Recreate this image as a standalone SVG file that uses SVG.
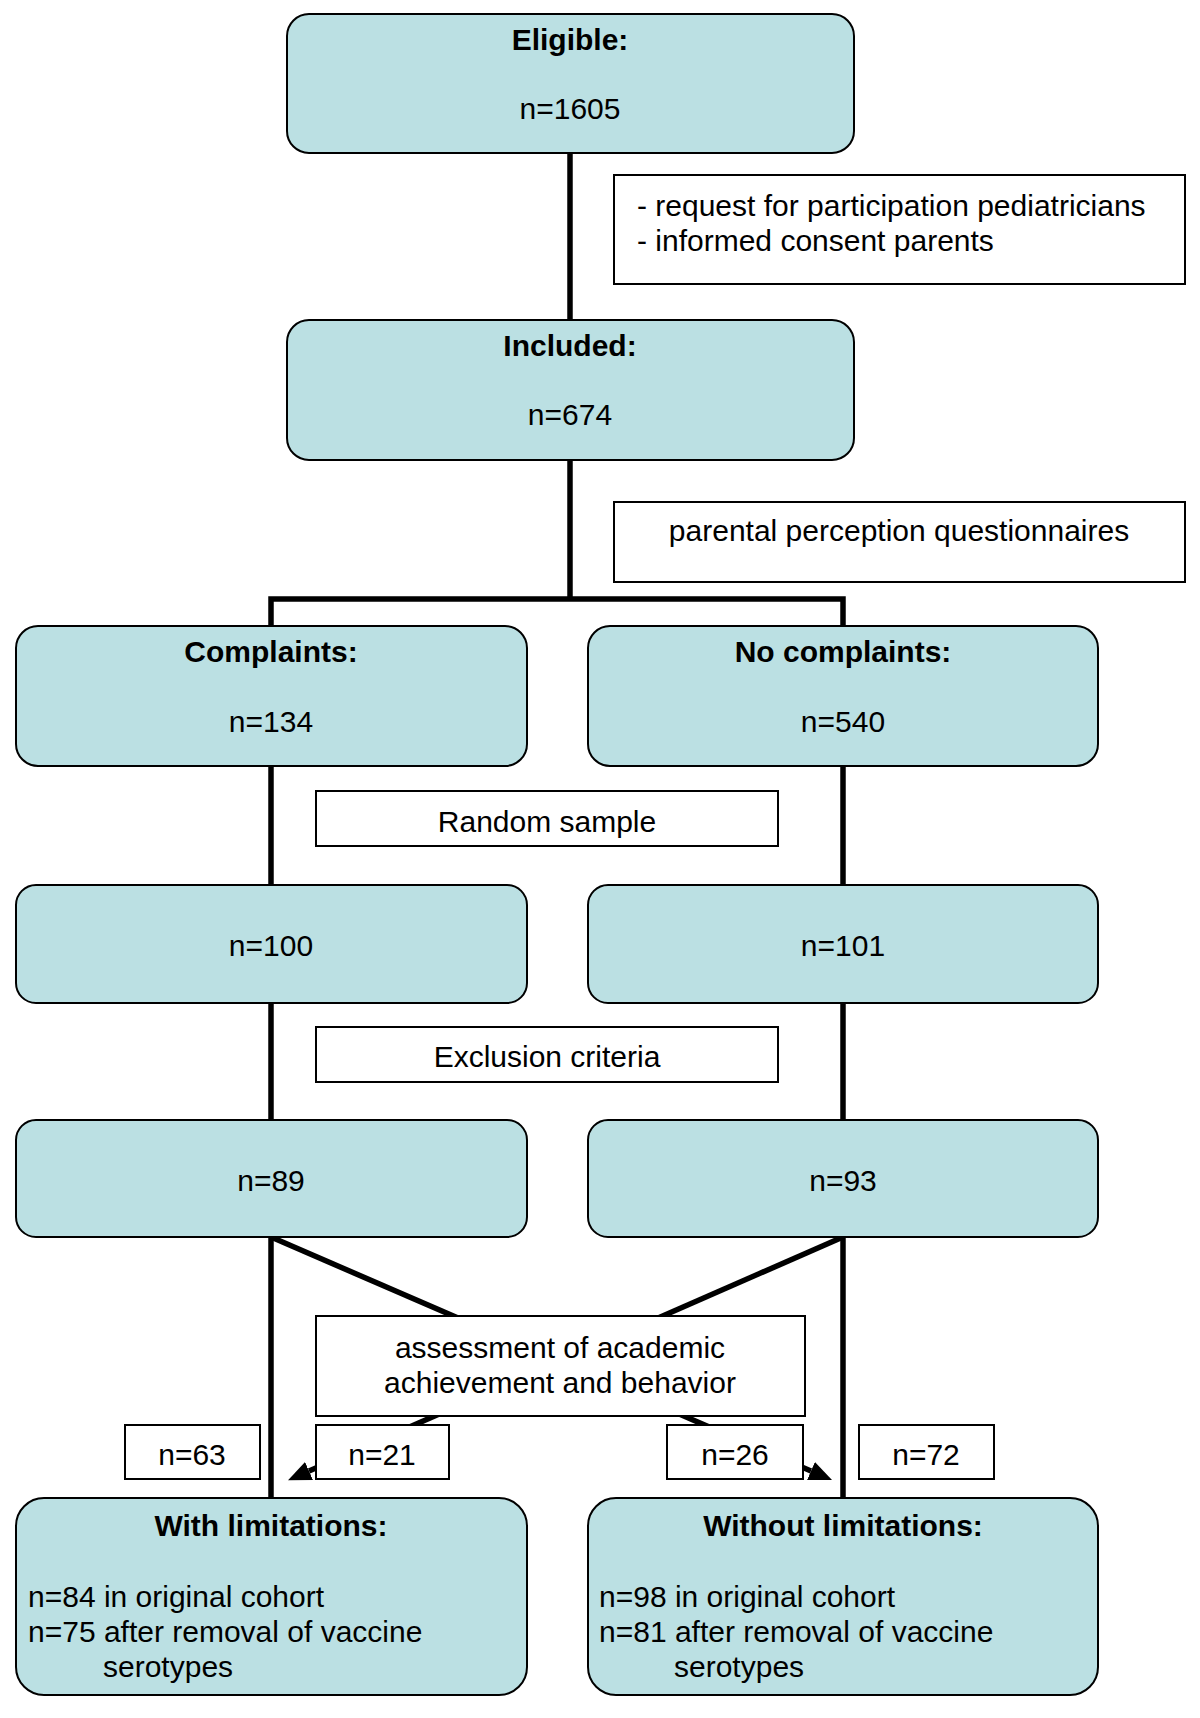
<svg xmlns="http://www.w3.org/2000/svg" width="1200" height="1718" viewBox="0 0 1200 1718">
<style>
text{font-family:"Liberation Sans",Arial,sans-serif;font-size:30px;fill:#000}
.b{font-weight:bold}
.c{text-anchor:middle}
.node{fill:#bbe0e3;stroke:#000;stroke-width:2}
.note{fill:#fff;stroke:#000;stroke-width:2}
.con{stroke:#000;stroke-width:5.5;fill:none}
</style>
<defs>
<marker id="ah" markerUnits="userSpaceOnUse" markerWidth="24" markerHeight="24" refX="0" refY="9" orient="auto" viewBox="0 0 22 18">
<path d="M0,0 L21,9 L0,18 z" fill="#000"/>
</marker>
</defs>
<rect width="1200" height="1718" fill="#fff"/>
<g id="connectors">
<line class="con" x1="570" y1="153" x2="570" y2="320"/>
<polyline class="con" points="570,460 570,599"/>
<polyline class="con" points="271,626 271,599 843,599 843,626"/>
<line class="con" x1="271" y1="766" x2="271" y2="885"/>
<line class="con" x1="843" y1="766" x2="843" y2="885"/>
<line class="con" x1="271" y1="1003" x2="271" y2="1120"/>
<line class="con" x1="843" y1="1003" x2="843" y2="1120"/>
<line class="con" x1="271" y1="1237" x2="271" y2="1498"/>
<line class="con" x1="843" y1="1237" x2="843" y2="1498"/>
<line class="con" x1="271" y1="1237" x2="811" y2="1471" marker-end="url(#ah)"/>
<line class="con" x1="843" y1="1237" x2="309" y2="1471" marker-end="url(#ah)"/>
</g>
<g id="eligible">
<rect class="node" x="287" y="14" width="567" height="139" rx="22"/>
<text class="b c" x="570" y="50">Eligible:</text>
<text class="c" x="570" y="119">n=1605</text>
</g>
<g id="note-consent">
<rect class="note" x="614" y="175" width="571" height="109"/>
<text x="637" y="216">- request for participation pediatricians</text>
<text x="637" y="251">- informed consent parents</text>
</g>
<g id="included">
<rect class="node" x="287" y="320" width="567" height="140" rx="22"/>
<text class="b c" x="570" y="356">Included:</text>
<text class="c" x="570" y="425">n=674</text>
</g>
<g id="note-questionnaire">
<rect class="note" x="614" y="502" width="571" height="80"/>
<text class="c" x="899" y="541">parental perception questionnaires</text>
</g>
<g id="complaints">
<rect class="node" x="16" y="626" width="511" height="140" rx="22"/>
<text class="b c" x="271" y="662">Complaints:</text>
<text class="c" x="271" y="732">n=134</text>
</g>
<g id="no-complaints">
<rect class="node" x="588" y="626" width="510" height="140" rx="22"/>
<text class="b c" x="843" y="662">No complaints:</text>
<text class="c" x="843" y="732">n=540</text>
</g>
<g id="random-sample">
<rect class="note" x="316" y="791" width="462" height="55"/>
<text class="c" x="547" y="832">Random sample</text>
</g>
<g id="n100">
<rect class="node" x="16" y="885" width="511" height="118" rx="20"/>
<text class="c" x="271" y="956">n=100</text>
</g>
<g id="n101">
<rect class="node" x="588" y="885" width="510" height="118" rx="20"/>
<text class="c" x="843" y="956">n=101</text>
</g>
<g id="exclusion">
<rect class="note" x="316" y="1027" width="462" height="55"/>
<text class="c" x="547" y="1067">Exclusion criteria</text>
</g>
<g id="n89">
<rect class="node" x="16" y="1120" width="511" height="117" rx="20"/>
<text class="c" x="271" y="1191">n=89</text>
</g>
<g id="n93">
<rect class="node" x="588" y="1120" width="510" height="117" rx="20"/>
<text class="c" x="843" y="1191">n=93</text>
</g>
<g id="assessment">
<rect class="note" x="316" y="1316" width="489" height="100"/>
<text class="c" x="560" y="1358">assessment of academic</text>
<text class="c" x="560" y="1393">achievement and behavior</text>
</g>
<g id="n63">
<rect class="note" x="125" y="1425" width="135" height="54"/>
<text class="c" x="192" y="1465">n=63</text>
</g>
<g id="n21">
<rect class="note" x="316" y="1425" width="133" height="54"/>
<text class="c" x="382" y="1465">n=21</text>
</g>
<g id="n26">
<rect class="note" x="667" y="1425" width="136" height="54"/>
<text class="c" x="735" y="1465">n=26</text>
</g>
<g id="n72">
<rect class="note" x="859" y="1425" width="135" height="54"/>
<text class="c" x="926" y="1465">n=72</text>
</g>
<g id="with-limitations">
<rect class="node" x="16" y="1498" width="511" height="197" rx="28"/>
<text class="b c" x="271" y="1536">With limitations:</text>
<text x="28" y="1607">n=84 in original cohort</text>
<text x="28" y="1642">n=75 after removal of vaccine</text>
<text x="103" y="1677">serotypes</text>
</g>
<g id="without-limitations">
<rect class="node" x="588" y="1498" width="510" height="197" rx="28"/>
<text class="b c" x="843" y="1536">Without limitations:</text>
<text x="599" y="1607">n=98 in original cohort</text>
<text x="599" y="1642">n=81 after removal of vaccine</text>
<text x="674" y="1677">serotypes</text>
</g>
</svg>
